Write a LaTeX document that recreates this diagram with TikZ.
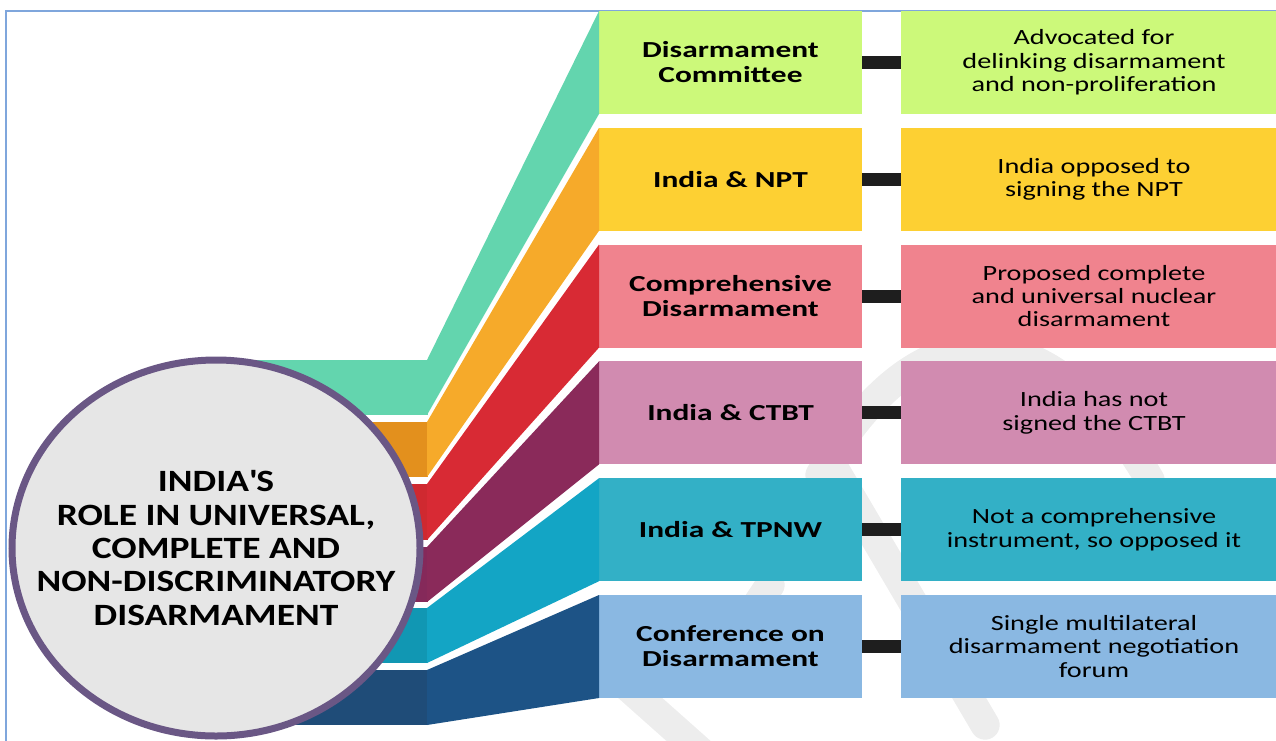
\documentclass[tikz,border=0pt]{standalone}
\usepackage{fontspec}
\setmainfont{Carlito}
\newfontfamily\hubfont{Carlito}[FakeStretch=1.21]
\newfontfamily\topicfont{Carlito}[FakeStretch=1.37]
\newfontfamily\notefont{Carlito}[FakeStretch=1.30]
\usepackage{tikz}
\usetikzlibrary{shapes.geometric}
\definecolor{rimblue}{HTML}{7FA6DC}
\definecolor{hubgray}{HTML}{E6E6E6}
\definecolor{hubrim}{HTML}{6A5785}
\definecolor{tiegray}{HTML}{1E1E1E}
\definecolor{wmgray}{HTML}{EDEDED}
\definecolor{tealband}{HTML}{63D5AE}
\definecolor{orangeflat}{HTML}{E3901D}
\definecolor{orangeslope}{HTML}{F6AA2A}
\definecolor{redflat}{HTML}{CF2930}
\definecolor{redslope}{HTML}{D82A34}
\definecolor{plumflat}{HTML}{85295A}
\definecolor{plumslope}{HTML}{8A2A5A}
\definecolor{cyanflat}{HTML}{1197B3}
\definecolor{cyanslope}{HTML}{13A5C5}
\definecolor{navyflat}{HTML}{1F4C78}
\definecolor{navyslope}{HTML}{1D5386}
\definecolor{limebox}{HTML}{CCF97A}
\definecolor{sunbox}{HTML}{FDD033}
\definecolor{rosebox}{HTML}{F0838E}
\definecolor{mauvebox}{HTML}{D18BB0}
\definecolor{aquabox}{HTML}{33B0C6}
\definecolor{skybox}{HTML}{8AB8E2}
\tikzset{topic/.style={minimum width=197.25pt, minimum height=77.25pt,
        inner sep=0pt, outer sep=0pt, align=center,
        font=\topicfont\bfseries\fontsize{17.2}{18.75}\selectfont},
    note/.style={minimum width=289.5pt, minimum height=77.25pt,
        inner sep=0pt, outer sep=0pt, align=center,
        font=\notefont\fontsize{16.3}{17.5}\selectfont},
    tie/.style={draw=tiegray, line width=9.75pt},
    hub/.style={ellipse, draw=hubrim, line width=5.25pt, fill=hubgray,
        minimum width=306pt, minimum height=282pt, inner sep=0pt},
    hubtext/.style={align=center, inner sep=0pt,
        font=\hubfont\bfseries\fontsize{23.25}{25}\selectfont},
    wmstroke/.style={draw=wmgray, line width=22pt, line cap=round}}

\begin{document}
\begin{tikzpicture}[x=0.75pt,y=-0.75pt]
\useasboundingbox (0,0) rectangle (1276,740);
\draw[rimblue, line width=1.5pt] (6,745) -- (6,11) -- (1280,11);

% faint logo behind the boxes
\draw[wmstroke] (820,475) .. controls (920,300) and (1050,310) .. (1150,480);
\draw[wmstroke] (835,470) -- (985,725);
\draw[wmstroke] (620,680) -- (710,760);
\draw[wmstroke] (770,585) -- (720,660);

\node[topic, fill=limebox] (t1) at (730.5,62.5) {Disarmament\\Committee};
\node[topic, fill=sunbox] (t2) at (730.5,179.3) {India \& NPT};
\node[topic, fill=rosebox] (t3) at (730.5,296.1) {Comprehensive\\Disarmament};
\node[topic, fill=mauvebox] (t4) at (730.5,412.9) {India \& CTBT};
\node[topic, fill=aquabox] (t5) at (730.5,529.7) {India \& TPNW};
\node[topic, fill=skybox] (t6) at (730.5,646.5) {Conference on\\Disarmament};

\node[note, fill=limebox] (d1) at (1094,62.5) {Advocated for\\delinking disarmament\\and non-proliferation};
\node[note, fill=sunbox] (d2) at (1094,179.3) {India opposed to\\signing the NPT};
\node[note, fill=rosebox] (d3) at (1094,296.1) {Proposed complete\\and universal nuclear\\disarmament};
\node[note, fill=mauvebox] (d4) at (1094,412.9) {India has not\\signed the CTBT};
\node[note, fill=aquabox] (d5) at (1094,529.7) {Not a comprehensive\\instrument, so opposed it};
\node[note, fill=skybox] (d6) at (1094,646.5) {Single multilateral\\disarmament negotiation\\forum};

\draw[tie] (t1.east) -- (d1.west);
\draw[tie] (t2.east) -- (d2.west);
\draw[tie] (t3.east) -- (d3.west);
\draw[tie] (t4.east) -- (d4.west);
\draw[tie] (t5.east) -- (d5.west);
\draw[tie] (t6.east) -- (d6.west);

% ribbons from the hub to the topics
\fill[tealband] (230,360) -- (428,360) -- (428,415) -- (230,415) -- cycle;
\fill[tealband] (427,360) -- (t1.north west) -- (t1.south west) -- (427,415) -- cycle;
\fill[orangeflat] (230,422) -- (428,422) -- (428,477) -- (230,477) -- cycle;
\fill[orangeslope] (427,422) -- (t2.north west) -- (t2.south west) -- (427,477) -- cycle;
\fill[redflat] (230,484) -- (428,484) -- (428,540) -- (230,540) -- cycle;
\fill[redslope] (427,484) -- (t3.north west) -- (t3.south west) -- (427,540) -- cycle;
\fill[plumflat] (230,547) -- (428,547) -- (428,602) -- (230,602) -- cycle;
\fill[plumslope] (427,547) -- (t4.north west) -- (t4.south west) -- (427,602) -- cycle;
\fill[cyanflat] (230,608) -- (428,608) -- (428,663) -- (230,663) -- cycle;
\fill[cyanslope] (427,608) -- (t5.north west) -- (t5.south west) -- (427,663) -- cycle;
\fill[navyflat] (230,670) -- (428,670) -- (428,725) -- (230,725) -- cycle;
\fill[navyslope] (427,670) -- (t6.north west) -- (t6.south west) -- (427,725) -- cycle;

\node[hub] (hub) at (216,548) {};
\node[hubtext] (title) at (hub.center) {INDIA\textquotesingle S\\ROLE IN UNIVERSAL,\\COMPLETE AND\\NON-DISCRIMINATORY\\DISARMAMENT};
\end{tikzpicture}
\end{document}
